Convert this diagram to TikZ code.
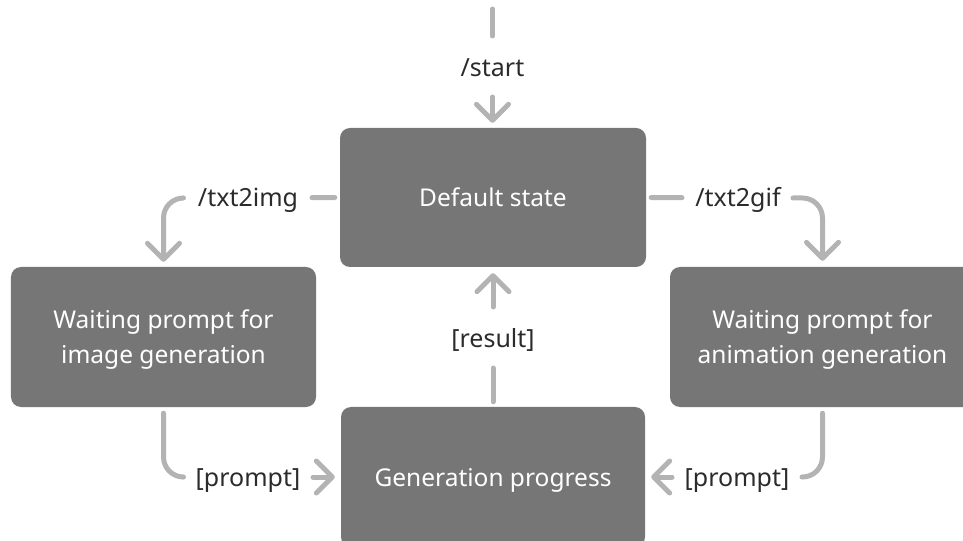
\documentclass[tikz,border=0pt]{standalone}
\usepackage{fontspec}
\setmainfont{Noto Sans}
\usetikzlibrary{arrows.meta,calc}
\definecolor{boxgray}{HTML}{767676}
\definecolor{linegray}{HTML}{B3B3B3}
\definecolor{txtdark}{HTML}{2B2B2B}
\tikzset{
  box/.style={fill=boxgray, rounded corners=10bp, text=white, inner sep=0pt, text depth=0pt,
    minimum width=305bp, minimum height=140bp, align=center, font=\fontsize{24.5bp}{35bp}\selectfont},
  lbl/.style={text=txtdark, inner sep=0pt, text height=18bp, text depth=0pt, font=\fontsize{25bp}{28bp}\selectfont},
  line/.style={draw=linegray, line width=5bp, line cap=round, line join=round},
  arr/.style={line, -{Straight Barb[length=16bp,width=32bp,round]}},
}
\begin{document}
\begin{tikzpicture}[x=1bp,y=-1bp]
\useasboundingbox (0,0) rectangle (963,541);
\begin{scope}
\clip (0,0) rectangle (963,541);
\node[box, minimum width=306bp, minimum height=139bp] (def) at (493,197.5) {Default state};
\node[box] (img) at (163.5,337) {Waiting prompt for\\image generation};
\node[box] (gif) at (822.5,337) {Waiting prompt for\\animation generation};
\node[box, minimum width=304bp] (gen) at (493,477) {Generation progress};
\end{scope}
\node[lbl] (start) at (492.5,68) {/start};
\node[lbl] (res) at (493,338) {[result]};
\node[lbl] (t2i) at (248,198) {/txt2img};
\node[lbl] (t2g) at (738,198) {/txt2gif};
\node[lbl] (p1) at (248,477) {[prompt]};
\node[lbl] (p2) at (737,477) {[prompt]};
\coordinate (s0) at (492.5,9);
% /start
\draw[line, shorten >=32bp] (s0) -- (start.center);
\draw[arr, shorten <=29bp, shorten >=5bp] (start.center) -- (start.center |- def.north);
% [result]
\draw[line, shorten <=5bp, shorten >=30bp] (gen.north) -- (res.center);
\draw[arr, shorten <=31bp, shorten >=6bp] (res.center) -- (def.south);
% /txt2img
\draw[line, shorten <=5bp, shorten >=64bp] (def.west) -- (t2i.center);
\draw[arr, rounded corners=20bp, shorten >=5bp] ($(t2i.center)+(-65,0)$) -| (img.north);
% /txt2gif
\draw[line, shorten <=5bp, shorten >=56bp] (def.east) -- (t2g.center);
\draw[arr, rounded corners=20bp, shorten >=6bp] ($(t2g.center)+(55,0)$) -| (gif.north);
% [prompt] left
\draw[line, rounded corners=20bp, shorten <=6bp] (img.south) |- ($(p1.center)+(-65,0)$);
\draw[arr, shorten <=65bp, shorten >=6bp] (p1.center) -- (gen.west);
% [prompt] right
\draw[line, rounded corners=20bp, shorten <=6bp] (gif.south) |- ($(p2.center)+(65,0)$);
\draw[arr, shorten <=65bp, shorten >=6bp] (p2.center) -- (gen.east);
\end{tikzpicture}
\end{document}
